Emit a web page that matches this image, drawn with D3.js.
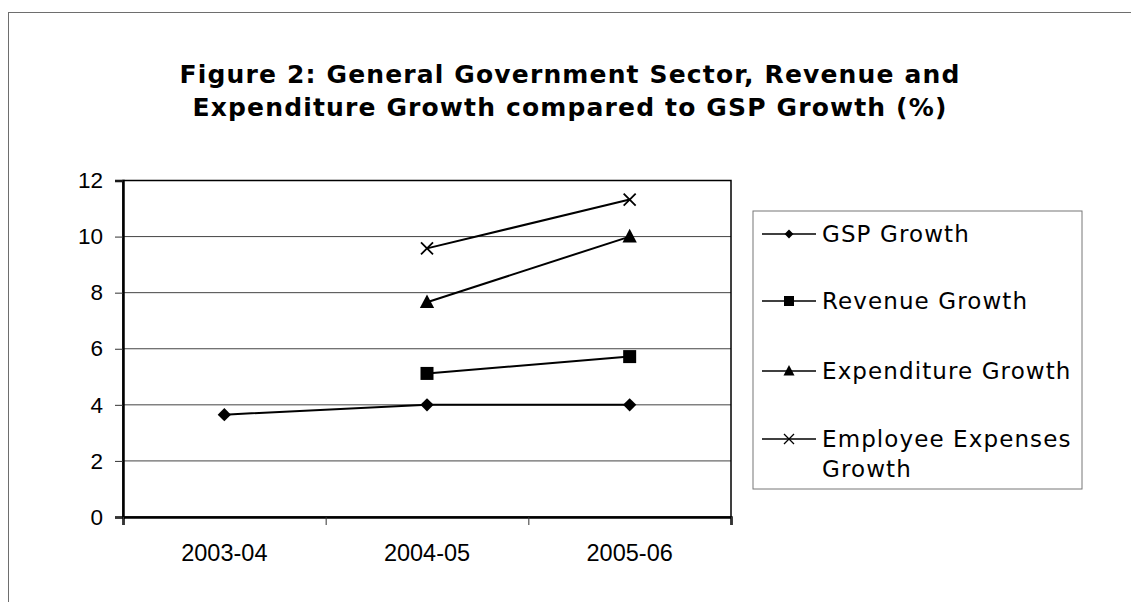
<!DOCTYPE html>
<html>
<head>
<meta charset="utf-8">
<script src="https://cdn.jsdelivr.net/npm/d3@7"></script>
<style>
  body { margin: 0; background: #fff; }
  svg text { fill: #000; }
</style>
</head>
<body>
<div id="chart"></div>
<script>
// Data
const years = ['2003-04', '2004-05', '2005-06'];
const gspGrowth = [3.65, 4.0, 4.0];
const revenueGrowth = [null, 5.12, 5.72];
const expenditureGrowth = [null, 7.66, 10.0];
const employeeGrowth = [null, 9.58, 11.32];
const seriesNames = ['GSP Growth', 'Revenue Growth', 'Expenditure Growth', 'Employee Expenses Growth'];
const yTicks = [0, 2, 4, 6, 8, 10, 12];
const titleLines = [
  'Figure 2: General Government Sector, Revenue and',
  'Expenditure Growth compared to GSP Growth (%)'
];

const series = [
  {name: seriesNames[0], values: gspGrowth, shape: 'diamond'},
  {name: seriesNames[1], values: revenueGrowth, shape: 'square'},
  {name: seriesNames[2], values: expenditureGrowth, shape: 'triangle'},
  {name: seriesNames[3], values: employeeGrowth, shape: 'cross'}
];

const width = 1131;
const height = 602;
const plot = {left: 123, right: 731, top: 180.5, bottom: 517};

const svg = d3.select('#chart')
  .append('svg')
  .attr('width', width)
  .attr('height', height);

// outer frame (runs off right/bottom edge)
svg.append('rect')
  .attr('x', 8.5)
  .attr('y', 12.5)
  .attr('width', width + 10)
  .attr('height', height + 10)
  .attr('fill', 'none')
  .attr('stroke', '#6e6e6e')
  .attr('stroke-width', 1);

// title
svg.append('text')
  .attr('x', 570)
  .attr('y', 83)
  .attr('text-anchor', 'middle')
  .style('font-family', '"DejaVu Sans", Verdana, sans-serif')
  .style('font-weight', 'bold')
  .style('font-size', '25px')
  .style('letter-spacing', '1.15px')
  .selectAll('tspan')
  .data(titleLines)
  .enter()
  .append('tspan')
  .attr('x', 570)
  .attr('dy', (d, i) => i === 0 ? 0 : 33)
  .text(d => d);

//Scales
const x = d3.scaleBand()
  .domain(years)
  .range([plot.left, plot.right]);

const xEdge = d3.scaleLinear()
  .domain([0, years.length])
  .range([plot.left, plot.right]);

const y = d3.scaleLinear()
  .domain([0, 12])
  .range([plot.bottom, plot.top]);

//Gridlines
svg.append('g')
  .selectAll('line')
  .data(yTicks.filter(t => t > 0 && t < 12))
  .enter()
  .append('line')
  .attr('x1', plot.left)
  .attr('x2', plot.right)
  .attr('y1', d => y(d))
  .attr('y2', d => y(d))
  .attr('stroke', '#444')
  .attr('stroke-width', 1);

// plot frame
svg.append('rect')
  .attr('x', plot.left)
  .attr('y', plot.top)
  .attr('width', plot.right - plot.left)
  .attr('height', plot.bottom - plot.top)
  .attr('fill', 'none')
  .attr('stroke', '#000')
  .attr('stroke-width', 1.5);

//Axes
const yAxis = d3.axisLeft(y)
  .tickValues(yTicks)
  .tickSize(8)
  .tickPadding(12)
  .tickFormat(d3.format('d'));
const gy = svg.append('g')
  .attr('transform', `translate(${plot.left}, 0)`)
  .call(yAxis);
gy.select('.domain').attr('stroke-width', 2.5);
gy.selectAll('.tick line').attr('stroke', '#333');
gy.selectAll('text')
  .style('font-family', '"Liberation Sans", Arial, sans-serif')
  .style('font-size', '22.5px');

const edgeAxis = d3.axisBottom(xEdge)
  .tickValues(d3.range(years.length + 1))
  .tickSize(8)
  .tickFormat('');
const gx = svg.append('g')
  .attr('transform', `translate(0, ${plot.bottom})`)
  .call(edgeAxis);
gx.select('.domain').attr('stroke-width', 2.5);
gx.selectAll('.tick line').attr('stroke', '#333');

const xAxis = d3.axisBottom(x)
  .tickSize(0)
  .tickPadding(27);
const gxl = svg.append('g')
  .attr('transform', `translate(0, ${plot.bottom})`)
  .call(xAxis);
gxl.select('.domain').remove();
gxl.selectAll('text')
  .style('font-family', '"Liberation Sans", Arial, sans-serif')
  .style('font-size', '23.5px');

//Symbols
function symbolPath(shape, s) {
  if (shape === 'diamond') return d3.symbol(d3.symbolDiamond2, s * s * 0.5)();
  if (shape === 'square') return d3.symbol(d3.symbolSquare, s * s)();
  if (shape === 'triangle') return `M0,${-s * 0.6}L${s * 0.55},${s * 0.45}L${-s * 0.55},${s * 0.45}Z`;
  const h = s / 2;
  return `M${-h},${-h}L${h},${h}M${-h},${h}L${h},${-h}`;
}

const markerSize = {diamond: 15, square: 13, triangle: 13, cross: 12};

const line = d3.line()
  .defined(d => d.v !== null)
  .x(d => x(d.year) + x.bandwidth() / 2)
  .y(d => y(d.v));

const lines = svg.append('g');
series.forEach(s => {
  const pts = years.map((yr, i) => ({year: yr, v: s.values[i]}));
  lines.append('path')
    .datum(pts)
    .attr('d', line)
    .attr('fill', 'none')
    .attr('stroke', '#000')
    .attr('stroke-width', 2);
  lines.append('g')
    .selectAll('path')
    .data(pts.filter(d => d.v !== null))
    .enter()
    .append('path')
    .attr('transform', d => `translate(${x(d.year) + x.bandwidth() / 2}, ${y(d.v)})`)
    .attr('d', symbolPath(s.shape, markerSize[s.shape]))
    .attr('fill', s.shape === 'cross' ? 'none' : '#000')
    .attr('stroke', '#000')
    .attr('stroke-width', s.shape === 'cross' ? 1.8 : 0);
});

//Legend
const legend = svg.append('g');
legend.append('rect')
  .attr('x', 753)
  .attr('y', 211)
  .attr('width', 329)
  .attr('height', 278)
  .attr('fill', '#fff')
  .attr('stroke', '#777')
  .attr('stroke-width', 1);

const legendRows = [234, 301, 371, 439];
series.forEach((s, i) => {
  const g = legend.append('g')
    .attr('transform', `translate(0, ${legendRows[i]})`);
  g.append('line')
    .attr('x1', 762)
    .attr('x2', 816)
    .attr('stroke', '#000')
    .attr('stroke-width', 1.5);
  g.append('path')
    .attr('transform', 'translate(789, 0)')
    .attr('d', symbolPath(s.shape, 10))
    .attr('fill', s.shape === 'cross' ? 'none' : '#000')
    .attr('stroke', '#000')
    .attr('stroke-width', s.shape === 'cross' ? 1.3 : 0);
  const words = s.name === 'Employee Expenses Growth' ? ['Employee Expenses', 'Growth'] : [s.name];
  g.append('text')
    .attr('x', 822)
    .attr('y', 8)
    .style('font-family', '"DejaVu Sans", Verdana, sans-serif')
    .style('font-size', '23px')
    .style('letter-spacing', '1.1px')
    .selectAll('tspan')
    .data(words)
    .enter()
    .append('tspan')
    .attr('x', 822)
    .attr('dy', (d, j) => j === 0 ? 0 : 30)
    .text(d => d);
});
</script>
</body>
</html>
